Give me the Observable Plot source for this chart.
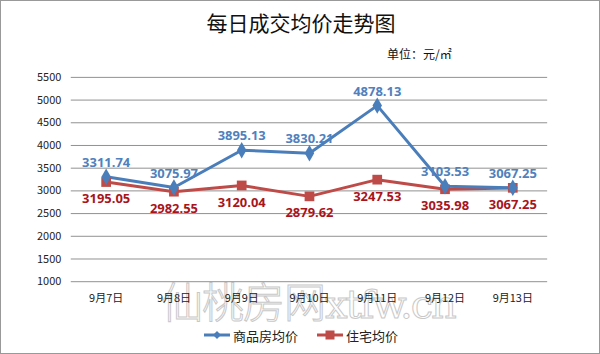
<!DOCTYPE html>
<html><head><meta charset="utf-8">
<script src="https://cdn.jsdelivr.net/npm/d3@7"></script>
<script src="https://cdn.jsdelivr.net/npm/@observablehq/plot@0.6"></script>
<style>
html,body{margin:0;padding:0;background:#fff;}
#wrap{position:relative;width:600px;height:354px;box-sizing:border-box;border:1px solid #999;overflow:hidden;font-family:"Noto Sans CJK SC","Noto Sans",sans-serif;}
#title{position:absolute;left:0;top:7px;width:600px;text-align:center;font-size:21px;font-weight:400;color:#111;line-height:28px;}
#unit{position:absolute;left:386px;top:44px;font-size:12px;color:#111;}
#wm{position:absolute;left:160px;top:268px;font-size:42px;font-weight:300;color:#fff;-webkit-text-stroke:1px #c8c8c8;letter-spacing:-1px;white-space:nowrap;font-family:"Noto Sans CJK SC",sans-serif;}
#wm .en{font-family:"DejaVu Serif",serif;font-size:40px;letter-spacing:-2px;}
#chart{position:absolute;left:0;top:40px;}
#legend{position:absolute;left:0;top:324px;width:600px;text-align:center;font-size:13px;color:#222;}
.li{display:inline-flex;align-items:center;margin:0 8px;}
.li svg{margin-right:3px;}
</style></head>
<body>
<div id="wrap">
  <div id="title">每日成交均价走势图</div>
  <div id="unit">单位：元/㎡</div>
  <div id="wm">仙桃房网<span class="en">xtfw.cn</span></div>
  <div id="chart"></div>
  <div id="legend">
    <span class="li"><svg width="26" height="10"><line x1="0" y1="5" x2="26" y2="5" stroke="#4A7EBB" stroke-width="3"/><path d="M13,1 L17,5 L13,9 L9,5Z" fill="#4A7EBB"/></svg>商品房均价</span>
    <span class="li"><svg width="26" height="10"><line x1="0" y1="5" x2="26" y2="5" stroke="#BE4B48" stroke-width="3"/><rect x="8.5" y="0.5" width="9" height="9" fill="#BE4B48"/></svg>住宅均价</span>
  </div>
</div>
<script>
const dates = ["9月7日","9月8日","9月9日","9月10日","9月11日","9月12日","9月13日"];
const commercial = [3311.74, 3075.97, 3895.13, 3830.21, 4878.13, 3103.53, 3067.25];
const residential = [3195.05, 2982.55, 3120.04, 2879.62, 3247.53, 3035.98, 3067.25];
const yTicks = [1000,1500,2000,2500,3000,3500,4000,4500,5000,5500];

const blue = dates.map((d,i)=>({date:d, v:commercial[i]}));
const red = dates.map((d,i)=>({date:d, v:residential[i]}));
const fmt = v => v.toFixed(2);

const chart = Plot.plot({
  width: 600,
  height: 280,
  marginLeft: 70,
  marginRight: 52,
  marginTop: 36,
  marginBottom: 39,
  style: {fontFamily: '"Noto Sans CJK SC","Noto Sans",sans-serif', fontSize: "11px", color: "#222", background: "transparent"},
  x: {type: "band", domain: dates, padding: 0, label: null, tickSize: 0, tickPadding: 13},
  y: {domain: [1000, 5500], ticks: yTicks, label: null, tickSize: 0, tickPadding: 10, tickFormat: d => String(d)},
  marks: [
    Plot.ruleY(yTicks, {stroke: "#919191", strokeWidth: 1}),
    Plot.line(red, {x: "date", y: "v", stroke: "#BE4B48", strokeWidth: 3}),
    Plot.line(blue, {x: "date", y: "v", stroke: "#4A7EBB", strokeWidth: 3}),
    Plot.dot(red, {x: "date", y: "v", symbol: "square", r: 5.5, fill: "#BE4B48", stroke: "none"}),
    Plot.dot(blue, {x: "date", y: "v", symbol: "diamond", r: 5, fill: "#4A7EBB", stroke: "none"}),
    Plot.text(blue, {x: "date", y: "v", text: d => fmt(d.v), dy: -14, fill: "#4F81BD", fontSize: 13, fontWeight: 700, fontFamily: '"Open Sans",sans-serif'}),
    Plot.text(red, {x: "date", y: "v", text: d => fmt(d.v), dy: 17, fill: "#A8141C", fontSize: 13, fontWeight: 700, fontFamily: '"Open Sans",sans-serif'})
  ]
});
document.getElementById("chart").appendChild(chart);
</script>
</body></html>
